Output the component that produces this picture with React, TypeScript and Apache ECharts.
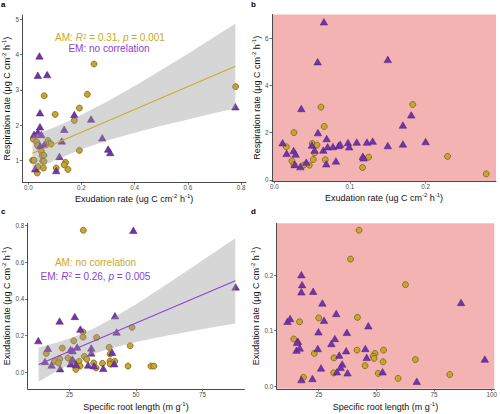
import React, { useEffect, useRef } from 'react';
import * as echarts from 'echarts';

// ---------- Panel a: respiration vs exudation (AM gold circles, EM purple triangles)
const aAmX = [0.247, 0.060, 0.222, 0.192, 0.101, 0.173, 0.779, 0.019, 0.032, 0.074, 0.079, 0.086, 0.035, 0.049, 0.052, 0.059, 0.192, 0.016, 0.022, 0.054, 0.059, 0.036, 0.034, 0.057, 0.105, 0.140, 0.135, 0.149];
const aAmY = [3.73, 2.83, 2.87, 2.48, 2.30, 2.13, 3.09, 1.60, 1.52, 1.56, 1.48, 1.46, 1.42, 1.26, 1.13, 1.14, 1.28, 1.00, 1.00, 0.98, 0.97, 0.82, 0.64, 0.78, 0.78, 0.94, 0.87, 0.74];
const aEmX = [0.042, 0.036, 0.071, 0.044, 0.044, 0.022, 0.036, 0.049, 0.045, 0.060, 0.173, 0.135, 0.236, 0.126, 0.278, 0.117, 0.300, 0.308, 0.026, 0.105, 0.778];
const aEmY = [3.96, 3.41, 3.43, 2.35, 1.95, 1.74, 1.80, 1.73, 1.41, 1.45, 2.30, 1.88, 2.17, 1.55, 1.64, 1.11, 1.32, 1.22, 0.76, 0.71, 2.52];
const aFitX = [0.016, 0.778];
const aFitY = [1.20, 3.67];
const aBandX = [0.016, 0.05, 0.1, 0.15, 0.2, 0.3, 0.4, 0.5, 0.6, 0.7, 0.778];
const aBandLo = [0.70, 0.83, 1.00, 1.16, 1.31, 1.57, 1.78, 1.98, 2.16, 2.34, 2.47];
const aBandHi = [1.70, 1.80, 1.94, 2.11, 2.29, 2.68, 3.11, 3.56, 4.02, 4.50, 4.87];
const aXTicks = [0, 0.2, 0.4, 0.6, 0.8];
const aYTicks = [1, 2, 3, 4, 5];

// ---------- Panel b
const bEmX = [0.0656, 0.0573, 0.150, 0.0357, 0.181, 0.170, 0.0577, 0.011, 0.0255, 0.0163, 0.0282, 0.0498, 0.0533, 0.0692, 0.0648, 0.0705, 0.0775, 0.085, 0.087, 0.0974, 0.099, 0.109, 0.1225, 0.130, 0.150, 0.170, 0.200, 0.117, 0.118, 0.0687, 0.0815, 0.0423, 0.0344, 0.027];
const bEmY = [6.69, 5.00, 5.10, 3.02, 2.75, 2.32, 2.00, 1.57, 1.24, 1.12, 1.09, 1.47, 1.26, 1.75, 1.26, 1.40, 1.41, 1.45, 1.51, 1.58, 1.40, 1.60, 1.60, 1.64, 1.45, 1.52, 1.62, 1.00, 0.93, 0.68, 0.80, 0.75, 0.56, 0.65];
const bAmX = [0.0617, 0.183, 0.066, 0.026, 0.0159, 0.0502, 0.0564, 0.0533, 0.0233, 0.026, 0.0388, 0.0463, 0.0515, 0.0674, 0.1167, 0.1247, 0.229, 0.280];
const bAmY = [3.08, 3.19, 2.26, 2.00, 1.40, 1.54, 1.47, 1.14, 0.80, 0.64, 0.62, 0.62, 0.86, 0.85, 0.52, 0.96, 0.99, 0.25];
const bXTicks = [0, 0.1, 0.2];
const bYTicks = [0, 2, 4, 6];

// ---------- Panel c: exudation vs specific root length
const cEmX = [49.0, 13.3, 21.3, 27.0, 42.1, 29.1, 42.7, 87.4, 16.9, 25.4, 26.2, 27.9, 33.2, 33.2, 41.0, 18.3, 15.8, 21.5, 25.4, 27.5, 32.0, 34.2, 37.7, 41.8, 26.1];
const cEmY = [0.775, 0.173, 0.280, 0.305, 0.309, 0.236, 0.220, 0.466, 0.131, 0.124, 0.118, 0.138, 0.133, 0.106, 0.109, 0.040, 0.059, 0.020, 0.046, 0.042, 0.040, 0.036, 0.022, 0.047, 0.073];
const cAmX = [30.2, 48.5, 30.1, 30.1, 35.2, 26.6, 22.3, 16.3, 39.9, 47.8, 40.3, 24.4, 30.6, 31.5, 21.4, 19.4, 20.9, 26.2, 28.6, 29.0, 27.4, 34.1, 35.0, 37.4, 40.2, 40.3, 42.0, 47.0, 55.6, 56.7];
const cAmY = [0.775, 0.245, 0.220, 0.192, 0.190, 0.172, 0.132, 0.103, 0.136, 0.145, 0.100, 0.078, 0.087, 0.071, 0.073, 0.060, 0.051, 0.060, 0.060, 0.034, 0.016, 0.051, 0.024, 0.049, 0.060, 0.045, 0.060, 0.034, 0.034, 0.034];
const cFitX = [13.4, 87.3];
const cFitY = [0.042, 0.499];
const cBandX = [13.4, 20, 25, 30, 35, 40, 50, 60, 70, 80, 87.3];
const cBandLo = [-0.052, 0.005, 0.043, 0.077, 0.105, 0.128, 0.165, 0.195, 0.222, 0.248, 0.266];
const cBandHi = [0.136, 0.161, 0.184, 0.212, 0.246, 0.285, 0.371, 0.465, 0.562, 0.660, 0.732];
const cXTicks = [25, 50, 75];
const cYTicks = [0, 0.2, 0.4, 0.6, 0.8];

// ---------- Panel d
const dEmX = [17.5, 17.8, 17.5, 22.6, 26.6, 32.6, 11.5, 12.6, 27.3, 24.9, 37.2, 46.5, 16.0, 32.0, 30.5, 15.4, 16.8, 24.6, 33.9, 36.9, 45.2, 45.8, 35.2, 34.5, 32.9, 37.5, 26.0, 22.3, 17.5, 52.7, 67.5, 86.7, 97.0, 15.6];
const dEmY = [0.201, 0.183, 0.170, 0.171, 0.150, 0.131, 0.117, 0.122, 0.119, 0.098, 0.097, 0.109, 0.081, 0.086, 0.077, 0.065, 0.069, 0.068, 0.056, 0.064, 0.068, 0.052, 0.040, 0.034, 0.026, 0.024, 0.033, 0.014, 0.012, 0.026, 0.009, 0.151, 0.049, 0.079];
const dAmX = [42.5, 38.8, 62.6, 25.0, 41.8, 16.7, 14.2, 23.1, 41.6, 53.1, 49.4, 48.7, 49.0, 31.6, 52.9, 45.1, 66.9, 31.5, 50.8, 59.4, 81.8, 18.4];
const dAmY = [0.281, 0.229, 0.183, 0.123, 0.124, 0.116, 0.085, 0.059, 0.065, 0.065, 0.059, 0.054, 0.050, 0.051, 0.044, 0.037, 0.048, 0.024, 0.023, 0.014, 0.021, 0.016];
const dXTicks = [25, 50, 75, 100];
const dYTicks = [0, 0.1, 0.2];

// ---------- styles
const FONT = "'Liberation Sans', Arial, Helvetica, sans-serif";
const AM_FILL = '#CBA42E';
const AM_EDGE = '#6B5A14';
const EM_FILL = '#7433A8';
const EM_EDGE = '#4A1F73';
const AM_TEXT = '#C9A82C';
const EM_TEXT = '#8A3FD6';
const AM_LINE = '#C9AC2E';
const EM_LINE = '#8A45D8';
const PINK = '#F4B3B3';
const AXIS = '#4a4a4a';
const RIBBON = 'rgba(153,153,153,0.4)';

const RICH_NAME = {
  n: { fontSize: 9, lineHeight: 12, color: '#111', fontFamily: FONT },
  s: { fontSize: 6, verticalAlign: 'top', color: '#111', fontFamily: FONT },
};

const zip = (xs: number[], ys: number[]) => xs.map((x, i) => [x, ys[i]]);

function xAx(gi: number, min: number, max: number, ticks: number[], dec: number, name: string, gap: number) {
  return {
    type: 'value', gridIndex: gi, min, max,
    axisLine: { show: true, onZero: false, lineStyle: { color: AXIS, width: 1 } },
    axisTick: { show: true, length: 2.5, customValues: ticks, lineStyle: { color: AXIS, width: 0.8 } },
    axisLabel: { customValues: ticks, formatter: (v: number) => v.toFixed(dec), fontSize: 6.3, color: '#4d4d4d', margin: 2.5, fontFamily: FONT },
    splitLine: { show: false },
    name, nameLocation: 'middle', nameGap: gap,
    nameTextStyle: { rich: RICH_NAME, fontFamily: FONT },
  };
}
function yAx(gi: number, min: number, max: number, ticks: number[], dec: number, name: string, gap: number) {
  return {
    type: 'value', gridIndex: gi, min, max,
    axisLine: { show: true, onZero: false, lineStyle: { color: AXIS, width: 1 } },
    axisTick: { show: true, length: 2.5, customValues: ticks, lineStyle: { color: AXIS, width: 0.8 } },
    axisLabel: { customValues: ticks, formatter: (v: number) => v.toFixed(dec), fontSize: 6.3, color: '#4d4d4d', margin: 3.5, fontFamily: FONT },
    splitLine: { show: false },
    name, nameLocation: 'middle', nameGap: gap, nameRotate: 90,
    nameTextStyle: { rich: RICH_NAME, fontFamily: FONT },
  };
}

function amSeries(gi: number, xs: number[], ys: number[]) {
  return {
    type: 'scatter', xAxisIndex: gi, yAxisIndex: gi, symbol: 'circle', symbolSize: 6,
    itemStyle: { color: AM_FILL, borderColor: AM_EDGE, borderWidth: 0.7, opacity: 1 },
    data: zip(xs, ys), silent: true, z: 2,
  };
}
function emSeries(gi: number, xs: number[], ys: number[]) {
  return {
    type: 'scatter', xAxisIndex: gi, yAxisIndex: gi, symbol: 'triangle', symbolSize: [7.5, 6.5],
    itemStyle: { color: EM_FILL, borderColor: EM_EDGE, borderWidth: 0.5, opacity: 1 },
    data: zip(xs, ys), silent: true, z: 2,
  };
}
function bandSeries(gi: number, xs: number[], lo: number[], hi: number[]) {
  return {
    type: 'custom', xAxisIndex: gi, yAxisIndex: gi, silent: true, z: 3,
    data: xs.map((x, i) => [x, lo[i], hi[i]]),
    encode: { x: 0, y: [1, 2] },
    renderItem: (params: any, api: any) => {
      if (params.dataIndex !== 0) return null;
      const pts: number[][] = [];
      for (let i = 0; i < xs.length; i++) pts.push(api.coord([xs[i], hi[i]]));
      for (let i = xs.length - 1; i >= 0; i--) pts.push(api.coord([xs[i], lo[i]]));
      return { type: 'polygon', shape: { points: pts }, style: { fill: RIBBON } };
    },
  };
}
function fitSeries(gi: number, xs: number[], ys: number[], color: string) {
  return {
    type: 'line', xAxisIndex: gi, yAxisIndex: gi, data: zip(xs, ys), symbol: 'none', silent: true, z: 4,
    lineStyle: { color, width: 1.1 },
  };
}

const exuNameUg = '{n|Exudation rate (ug C cm}{s|-2}{n| h}{s|-1}{n|)}';
const respName = '{n|Respiration rate (μg C cm}{s|-2}{n| h}{s|-1}{n|)}';
const exuNameMu = '{n|Exudation rate (μg C cm}{s|-2}{n| h}{s|-1}{n|)}';
const srlName = '{n|Specific root length (m g}{s|-1}{n|)}';

function letter(t: string, x: number, y: number) {
  return { type: 'text', x, y, style: { text: t, fontSize: 8, fontWeight: 'bold', fill: '#000', fontFamily: FONT, align: 'left', verticalAlign: 'top' } };
}
const annRich = (color: string) => ({
  t: { fontSize: 10, color, fontFamily: FONT },
  i: { fontSize: 10, color, fontFamily: FONT, fontStyle: 'italic' },
  s: { fontSize: 6.5, color, fontFamily: FONT, verticalAlign: 'top' },
});
function ann(text: string, color: string, x: number, y: number) {
  return { type: 'text', x, y, silent: true, style: { text, rich: annRich(color), fill: color, align: 'center', verticalAlign: 'middle' } };
}

const option: any = {
  animation: false,
  backgroundColor: '#fff',
  grid: [
    { left: 21.7, top: 15, width: 224.3, height: 167.3, show: false },
    { left: 272, top: 14.5, width: 224, height: 166.5, show: true, backgroundColor: PINK, borderWidth: 0 },
    { left: 26.7, top: 223.3, width: 217.7, height: 165.5, show: false },
    { left: 276.7, top: 223.3, width: 219.3, height: 165.5, show: true, backgroundColor: PINK, borderWidth: 0 },
  ],
  xAxis: [
    xAx(0, -0.022, 0.818, aXTicks, 1, exuNameUg, 10.5),
    xAx(1, -0.003, 0.293, bXTicks, 1, exuNameUg, 11),
    xAx(2, 9.3, 90.7, cXTicks, 0, srlName, 12.5),
    xAx(3, 6.8, 101.1, dXTicks, 0, srlName, 12.5),
  ],
  yAxis: [
    yAx(0, 0.376, 5.12, aYTicks, 0, respName, 8.5),
    yAx(1, -0.05, 7.0, bYTicks, 0, respName, 9.5),
    yAx(2, -0.09, 0.813, cYTicks, 1, exuNameMu, 13.5),
    yAx(3, -0.0047, 0.2935, dYTicks, 1, exuNameMu, 14),
  ],
  series: [
    amSeries(0, aAmX, aAmY),
    emSeries(0, aEmX, aEmY),
    bandSeries(0, aBandX, aBandLo, aBandHi),
    fitSeries(0, aFitX, aFitY, AM_LINE),
    amSeries(1, bAmX, bAmY),
    emSeries(1, bEmX, bEmY),
    amSeries(2, cAmX, cAmY),
    emSeries(2, cEmX, cEmY),
    bandSeries(2, cBandX, cBandLo, cBandHi),
    fitSeries(2, cFitX, cFitY, EM_LINE),
    amSeries(3, dAmX, dAmY),
    emSeries(3, dEmX, dEmY),
  ],
  graphic: [
    letter('a', 1, 0.5),
    letter('b', 251, 0.5),
    letter('c', 1, 207),
    letter('d', 251, 207),
    ann('{t|AM: }{i|R}{s|2}{t| = 0.31, }{i|p}{t| = 0.001}', AM_TEXT, 110, 37.5),
    ann('{t|EM: no correlation}', EM_TEXT, 109, 48.5),
    ann('{t|AM: no correlation}', AM_TEXT, 95.5, 262.5),
    ann('{t|EM: }{i|R}{s|2}{t| = 0.26, }{i|p}{t| = 0.005}', EM_TEXT, 95.5, 276),
  ],
};

export default function App() {
  const ref = useRef<HTMLDivElement>(null);
  useEffect(() => {
    if (!ref.current) return;
    const chart = echarts.init(ref.current, null, { renderer: 'svg' });
    chart.setOption(option);
    return () => chart.dispose();
  }, []);
  return <div ref={ref} style={{ position: 'absolute', left: 0, top: 0, width: 500, height: 414 }} />;
}
